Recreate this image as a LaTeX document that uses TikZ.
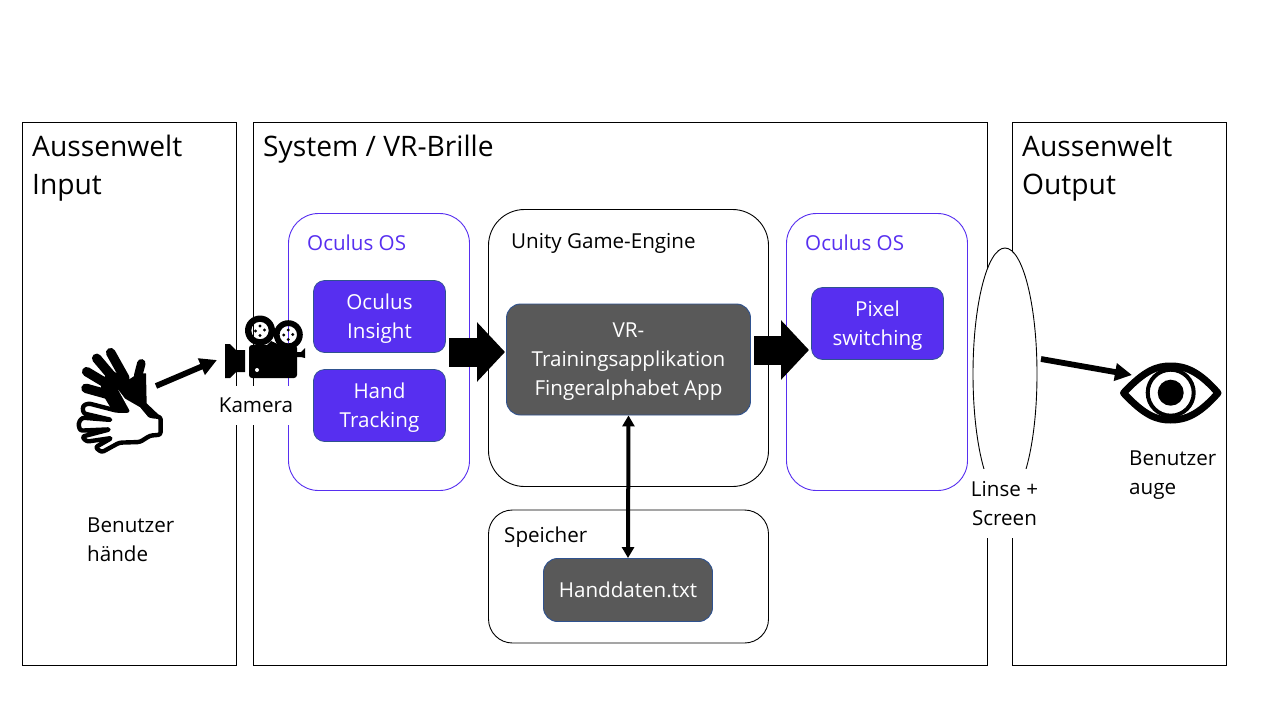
\documentclass[tikz,border=0pt]{standalone}
\usepackage{fontspec}
\setmainfont{Open Sans}
\usetikzlibrary{arrows.meta,shapes.geometric}
\definecolor{vio}{HTML}{572FF0}
\definecolor{darkg}{HTML}{595959}
\definecolor{edgeb}{HTML}{2F528F}
\tikzset{
  frame/.style={draw=black,line width=0.9pt,fill=white,rectangle,inner sep=0pt},
  big/.style={font=\fontsize{28.2}{38}\selectfont,anchor=north west,align=left,inner sep=0pt},
  mid/.style={font=\fontsize{20.6}{29}\selectfont,inner sep=0pt,align=center},
  midl/.style={mid,align=left,anchor=west},
  roundv/.style={draw=vio,line width=0.9pt,fill=white,rounded corners=30pt,rectangle,inner sep=0pt},
  roundk/.style={draw=black,line width=0.9pt,fill=white,rounded corners=36pt,rectangle,inner sep=0pt},
  vbox/.style={fill=vio,draw=edgeb,line width=0.7pt,rounded corners=11pt,rectangle,inner sep=0pt},
  gbox/.style={fill=darkg,draw=edgeb,line width=0.9pt,rounded corners=14pt,rectangle,inner sep=0pt},
  boxtext/.style={mid,text=white},
  block/.style={line width=29pt,-{Triangle[length=28pt,width=58pt]}},
  thin arrow/.style={line width=5.8pt,-{Triangle[length=17pt,width=17pt]}},
  dbl/.style={line width=4pt,{Triangle[length=11pt,width=12pt]}-{Triangle[length=11pt,width=12pt]}},
  cover/.style={fill=white,draw=none,rectangle,inner sep=0pt},
}
\begin{document}
\begin{tikzpicture}[x=1pt,y=-1pt]
\useasboundingbox (0,0) rectangle (1280,720);
\fill[white] (0,0) rectangle (1280,720);
% frames
\node[frame,minimum width=214pt,minimum height=543pt] (fin) at (129.5,393.5) {};
\node[frame,minimum width=734pt,minimum height=543pt] (fsys) at (620,393.5) {};
\node[frame,minimum width=214pt,minimum height=543pt] (fout) at (1119,393.5) {};
\node[big] (tin) at (32,135) {Aussenwelt\\Input};
\node[big] (tsys) at (263,135) {System / VR-Brille};
\node[big] (tout) at (1022,135) {Aussenwelt\\Output};
% containers
\node[roundv,minimum width=181pt,minimum height=277pt] (os1) at (379,352) {};
\node[roundk,minimum width=280pt,minimum height=277pt] (unity) at (628.5,348) {};
\node[roundv,minimum width=181pt,minimum height=277pt] (os2) at (877,352) {};
\node[roundk,rounded corners=24pt,minimum width=280pt,minimum height=133pt] (mem) at (628.5,576.5) {};
\node[midl,text=vio] (los1) at (307,242.5) {Oculus OS};
\node[midl] (lunity) at (511,243.5) {Unity Game-Engine};
\node[midl,text=vio] (los2) at (805,242.5) {Oculus OS};
\node[midl] (lmem) at (504,537) {Speicher};
% inner boxes
\node[vbox,minimum width=132pt,minimum height=72pt] (insight) at (379.5,316.5) {};
\node[vbox,minimum width=132pt,minimum height=72pt] (track) at (379.5,405.5) {};
\node[vbox,minimum width=132pt,minimum height=72pt] (pixel) at (877.5,323.5) {};
\node[gbox,minimum width=244pt,minimum height=111pt] (app) at (628.5,359.5) {};
\node[gbox,minimum width=169pt,minimum height=63pt] (txt) at (628,590) {};
\node[boxtext] (tinsight) at ([yshift=-2.5pt]insight.center) {Oculus\\Insight};
\node[boxtext] (ttrack) at ([yshift=-2.5pt]track.center) {Hand\\Tracking};
\node[boxtext] (tpixel) at ([yshift=-2.5pt]pixel.center) {Pixel\\switching};
\node[boxtext] (tapp) at ([yshift=-2.5pt]app.center) {VR-\\Trainingsapplikation\\Fingeralphabet App};
\node[boxtext] (ttxt) at (txt.center) {Handdaten.txt};
% connectors
\coordinate (b1s) at (449,352); \coordinate (b1e) at (505,352);
\coordinate (b2s) at (754,350); \coordinate (b2e) at (809,350);
\draw[block] (b1s) -- (b1e);
\draw[block] (b2s) -- (b2e);
\draw[dbl] (app.south) -- (txt.north);
% lens
\node[draw=black,line width=0.9pt,fill=white,ellipse,minimum width=64pt,minimum height=252pt,inner sep=0pt] (lens) at (1005,374) {};
% label covers
\node[cover,minimum width=74pt,minimum height=69pt] (clens) at (1005,503) {};
\node[cover,minimum width=82pt,minimum height=39pt] (ccam) at (256,405.5) {};
\node[mid] (llens) at (1004.5,503.5) {Linse +\\Screen};
\node[mid] (lcam) at (256,405) {Kamera};
\node[midl] (lhand) at (87,540) {Benutzer\\hände};
\node[midl] (leye) at (1129,475) {Benutzer\\auge};
% hands (coordinates at three times the picture scale)
\begin{scope}[shift={(70,340)},x=0.3333pt,y=-0.3333pt]
\fill[black] (115,85) -- (175,120) -- (205,100) -- (228,100) -- (230,190) -- (272,230) -- (150,250) -- (90,150) -- (100,120) -- cycle;
\begin{scope}[line width=9.5pt,line cap=round,black]
\draw (122,38) -- (165,115);
\draw (80,55) -- (135,120);
\draw (50,95) -- (125,140);
\draw (48,145) -- (120,165);
\end{scope}
\draw[line width=8.5pt,line cap=round,line join=round] (214,70) -- (205,105) -- (215,180);
\filldraw[fill=white,draw=black,line width=4.4pt,line join=round,rounded corners=2.5pt]
 (150,170) -- (170,190) -- (205,208) -- (242,228) -- (272,231) -- (272,284) -- (240,287) -- (210,306) -- (148,308) -- (95,337) -- (76,322) -- (125,294)
 -- (50,305) -- (36,290) -- (120,268)
 -- (30,272) -- (25,250) -- (36,233) -- (125,240)
 -- (40,220) -- (38,198) -- (55,190) -- (140,212) -- (178,212) -- cycle;
\fill[white] (145,150) -- (165,176) -- (210,202) -- (240,238) -- (180,238) -- (178,210) -- cycle;
\end{scope}
\coordinate (handout) at (156,386);
% camera
\fill[black,even odd rule] (260,330.5) circle (15pt) (260,330.5) circle (8.7pt);
\fill[black,even odd rule] (288.3,334.7) circle (14.5pt) (288.3,334.7) circle (8.7pt);
\foreach \x/\y in {260/326,260/335.5,255.5/331,264.5/330,288.3/330,288.3/339.5,283.8/335,292.8/334.5}{\fill (\x,\y) circle (1.6pt);}
\fill[black] (265,347) -- (271,341) -- (280,345) -- cycle;
\node[fill=black,rounded corners=3pt,rectangle,inner sep=0pt,minimum width=48pt,minimum height=33pt] (cam) at (273,361.5) {};
\fill[white] (257,370) circle (2pt);
\fill[black] (225,344) -- (230,344) -- (236,350) -- (245,350) -- (245,372) -- (236,372) -- (230,378) -- (225,378) -- cycle;
\fill[black] (296,352) -- (301,352) -- (305,348) -- (305,358) -- (301,357) -- (296,357) -- cycle;
\coordinate (camin) at (217,360);
\draw[thin arrow] (handout) -- (camin);
% eye
\coordinate (eyec) at (1170.7,392.7);
\draw[line width=7pt,line join=round] (1123.5,393) .. controls (1145,370) and (1157,366) .. (1170.5,366) .. controls (1184,366) and (1198,370) .. (1218,393) .. controls (1198,416) and (1184,420) .. (1170.5,420) .. controls (1157,420) and (1145,416) .. (1123.5,393) -- cycle;
\draw[line width=4pt] (eyec) circle (23pt);
\fill (eyec) circle (13pt);
\coordinate (eyeout) at (1041,359);
\coordinate (eyein) at (1132,375);
\draw[thin arrow] (eyeout) -- (eyein);
\end{tikzpicture}
\end{document}
